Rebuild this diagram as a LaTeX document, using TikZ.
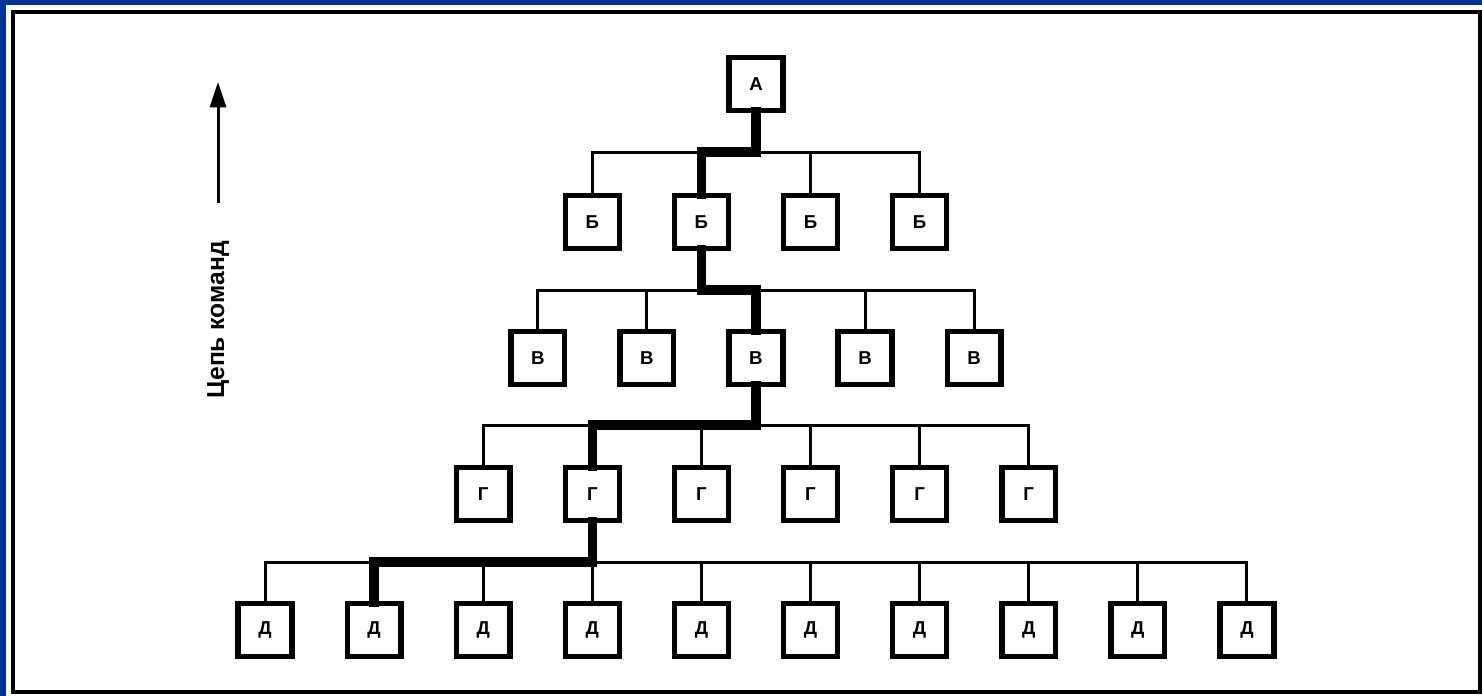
\documentclass[tikz,border=0pt]{standalone}
\usepackage{fontspec}
\setmainfont{Liberation Sans}
\usetikzlibrary{arrows.meta}
\definecolor{frameblue}{RGB}{0,51,153}
\begin{document}
\begin{tikzpicture}[x=0.75pt,y=-0.75pt,
  box/.style={draw, line width=2.7pt, minimum width=39pt, minimum height=38.5pt, inner sep=0pt, fill=white, font=\bfseries\fontsize{14}{14}\selectfont},
  link/.style={line width=2.25pt},
  chain/.style={line width=7pt, line cap=rect},
  lbl/.style={font=\bfseries\fontsize{18.5}{18.5}\selectfont, rotate=90}]
% background and frame
\fill[frameblue] (0,0) rectangle (1482,696);
\fill[white] (6,5) rectangle (1482,696);
\draw[line width=2.4pt] (13,12) rectangle (1480,692);
\useasboundingbox (0,0) rectangle (1482,696);
% bus levels
\coordinate (busB) at (0,152);
\coordinate (busV) at (0,290);
\coordinate (busG) at (0,425);
\coordinate (busD) at (0,562);
% nodes
\node[box] (A) at (756,84) {А};
\foreach \i in {1,...,4} {\node[box] (B\i) at ({265+109.1*(\i+2)},222) {Б};}
\foreach \i in {1,...,5} {\node[box] (V\i) at ({265+109.1*(\i+1.5)},358) {В};}
\foreach \i in {1,...,6} {\node[box] (G\i) at ({265+109.1*(\i+1)},494) {Г};}
\foreach \i in {1,...,10} {\node[box] (D\i) at ({265+109.1*(\i-1)},630) {Д};}
% thin connectors
\draw[link] (A.south) -- (A.south|-busB);
\draw[link] (B1.north) -- (B1.north|-busB) -- (B4.north|-busB) -- (B4.north);
\foreach \i in {2,3} {\draw[link] (B\i.north) -- (B\i.north|-busB);}
\draw[link] (B2.south) -- (B2.south|-busV);
\draw[link] (V1.north) -- (V1.north|-busV) -- (V5.north|-busV) -- (V5.north);
\foreach \i in {2,3,4} {\draw[link] (V\i.north) -- (V\i.north|-busV);}
\draw[link] (V3.south) -- (V3.south|-busG);
\draw[link] (G1.north) -- (G1.north|-busG) -- (G6.north|-busG) -- (G6.north);
\foreach \i in {2,...,5} {\draw[link] (G\i.north) -- (G\i.north|-busG);}
\draw[link] (G2.south) -- (G2.south|-busD);
\draw[link] (D1.north) -- (D1.north|-busD) -- (D10.north|-busD) -- (D10.north);
\foreach \i in {2,...,9} {\draw[link] (D\i.north) -- (D\i.north|-busD);}
% chain of command (thick)
\draw[chain] (A.south) -- (A.south|-busB) -- (B2.north|-busB) -- (B2.north);
\draw[chain] (B2.south) -- (B2.south|-busV) -- (V3.north|-busV) -- (V3.north);
\draw[chain] (V3.south) -- (V3.south|-busG) -- (G2.north|-busG) -- (G2.north);
\draw[chain] (G2.south) -- (G2.south|-busD) -- (D2.north|-busD) -- (D2.north);
% redraw box outlines on top
\foreach \n in {A,B1,B2,B3,B4,V1,V2,V3,V4,V5,G1,G2,G3,G4,G5,G6,D1,D2,D3,D4,D5,D6,D7,D8,D9,D10}
  {\draw[line width=2.7pt] (\n.north west) rectangle (\n.south east);}
% side arrow and label
\coordinate (arrtail) at (218,203);
\coordinate (arrtip) at (218,82);
\draw[line width=2.25pt, -{Triangle[length=19pt,width=12pt]}] (arrtail) -- (arrtip);
\node[lbl] (label) at (218,320) {Цепь команд};
\end{tikzpicture}
\end{document}
